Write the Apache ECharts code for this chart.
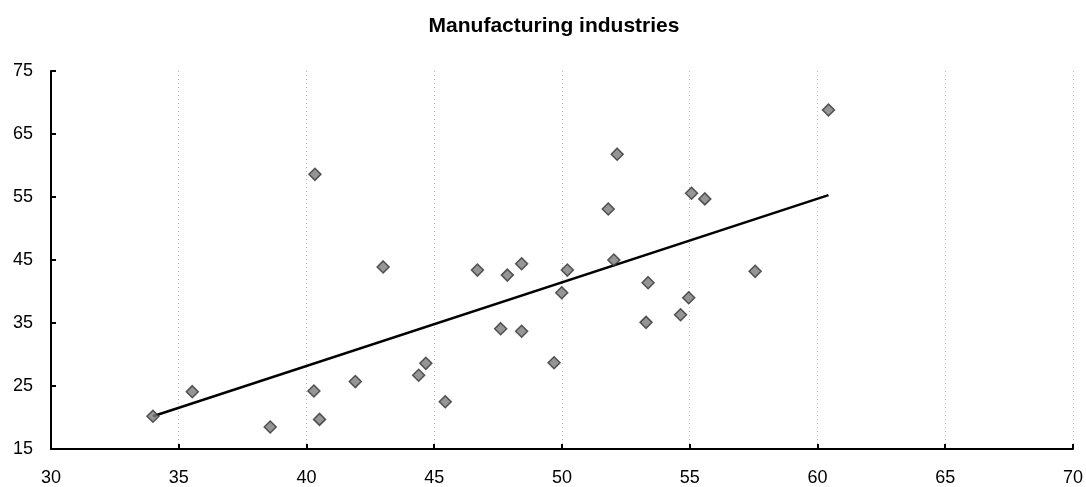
<!DOCTYPE html>
<html>
<head>
<meta charset="utf-8">
<script src="https://cdn.jsdelivr.net/npm/echarts@6/dist/echarts.min.js"></script>
<style>
html,body{margin:0;padding:0;background:#fff;}
#chart{width:1086px;height:487px;}
</style>
</head>
<body>
<div id="chart"></div>
<script>
const titleText = "Manufacturing industries";
const pointX = [33.99, 35.53, 38.58, 40.29, 40.51, 41.91, 43.0, 40.33, 52.16, 51.81,
                55.07, 55.59, 52.03, 46.69, 48.42, 47.86, 50.21, 57.56, 49.99, 53.37,
                54.96, 54.64, 53.29, 47.6, 48.42, 44.67, 44.39, 49.69, 45.43, 60.43];
const pointY = [20.2, 24.1, 18.5, 24.2, 19.7, 25.7, 43.9, 58.6, 61.8, 53.1,
                55.6, 54.7, 45.0, 43.4, 44.4, 42.6, 43.4, 43.2, 39.8, 41.4,
                39.0, 36.3, 35.1, 34.1, 33.7, 28.6, 26.7, 28.7, 22.5, 68.8];
const trendX = [33.99, 60.43];
const trendY = [20.2, 55.3];
const xTicks = [30, 35, 40, 45, 50, 55, 60, 65, 70];
const yTicks = [15, 25, 35, 45, 55, 65, 75];

const font = "'Liberation Sans', Arial, sans-serif";
const chart = echarts.init(document.getElementById('chart'), null, {renderer: 'canvas'});
chart.setOption({
  backgroundColor: '#fff',
  animation: false,
  title: {
    text: titleText, left: 549, top: 11, textAlign: 'center',
    textStyle: {fontFamily: font, fontWeight: 'bold', fontSize: 21, color: '#000'}
  },
  grid: {left: 51, right: 11, top: 71, bottom: 33, containLabel: false},
  xAxis: {
    type: 'value', min: xTicks[0], max: xTicks[xTicks.length - 1], interval: 5,
    axisLine: {onZero: false, lineStyle: {color: '#000', width: 2}},
    axisTick: {inside: true, length: 5, lineStyle: {color: '#000', width: 2}},
    axisLabel: {margin: 20, color: '#000', fontFamily: font, fontSize: 18},
    splitLine: {show: true, lineStyle: {color: '#bbb', type: [1, 3], width: 1}}
  },
  yAxis: {
    type: 'value', min: yTicks[0], max: yTicks[yTicks.length - 1], interval: 10,
    axisLine: {onZero: false, lineStyle: {color: '#000', width: 2}},
    axisTick: {inside: true, length: 5, lineStyle: {color: '#000', width: 2}},
    axisLabel: {margin: 18, color: '#000', fontFamily: font, fontSize: 18},
    splitLine: {show: false}
  },
  series: [
    {
      type: 'line', data: trendX.map((x, i) => [x, trendY[i]]),
      symbol: 'none', lineStyle: {color: '#000', width: 2.5}, z: 2
    },
    {
      type: 'scatter', data: pointX.map((x, i) => [x, pointY[i]]),
      symbol: 'diamond', symbolSize: 12,
      itemStyle: {color: '#7a7a7a', borderColor: '#333', borderWidth: 1.5}, z: 3
    }
  ]
});
</script>
</body>
</html>
